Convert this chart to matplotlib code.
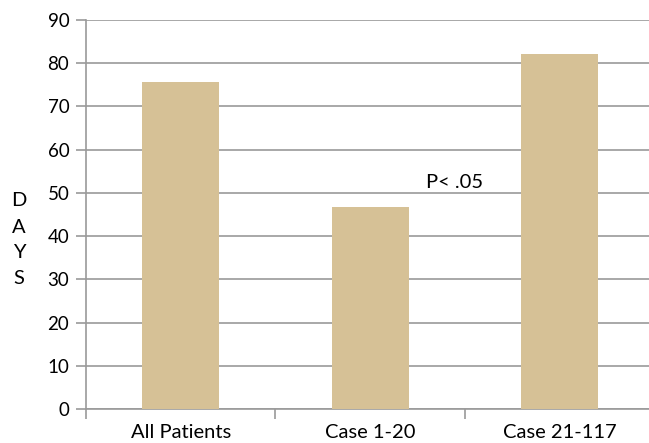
import matplotlib
matplotlib.use('Agg')
import matplotlib.pyplot as plt

categories = ["All Patients", "Case 1-20", "Case 21-117"]
days = [75.6, 46.7, 82.1]
y_ticks = [0, 10, 20, 30, 40, 50, 60, 70, 80, 90]

plt.rcParams['font.family'] = ['Lato', 'DejaVu Sans']

fig = plt.figure(figsize=(6.49, 4.43), dpi=100)
ax = fig.add_axes([86 / 649, 1 - 409 / 443, 562.8 / 649, 389 / 443])

x = list(range(len(categories)))
ax.bar(x, days, width=0.405, color='#D6C196', zorder=3)

ax.set_xlim(-0.5, 2.47)
ax.set_ylim(0, 90)
ax.set_yticks(y_ticks)
ax.yaxis.grid(True, color='#9A9A9A', linewidth=1.2, zorder=0)

# category ticks sit on the boundaries between groups
ax.set_xticks([-0.5, 0.5, 1.5], minor=False)
ax.set_xticklabels([])
ax.set_xticks(x, minor=True)
ax.set_xticklabels(categories, minor=True, fontsize=14.5)
ax.tick_params(axis='x', which='minor', length=0, pad=11)
ax.tick_params(axis='x', which='major', length=7, color='#9A9A9A', width=1.2)
ax.tick_params(axis='y', length=7, color='#9A9A9A', width=1.2, labelsize=13.5, pad=5)

for side in ['top', 'right']:
    ax.spines[side].set_visible(False)
for side in ['left', 'bottom']:
    ax.spines[side].set_color('#9A9A9A')
    ax.spines[side].set_linewidth(1.2)

# stacked letters for the y label
for i, ch in enumerate("DAYS"):
    fig.text(19 / 649, 1 - (201 + 26 * i) / 443, ch, fontsize=14.5,
             ha='center', va='center')

ax.text(1.446, 52.3, "P< .05", fontsize=14.5, ha='center', va='center')

fig.savefig("out.png", dpi=100)
